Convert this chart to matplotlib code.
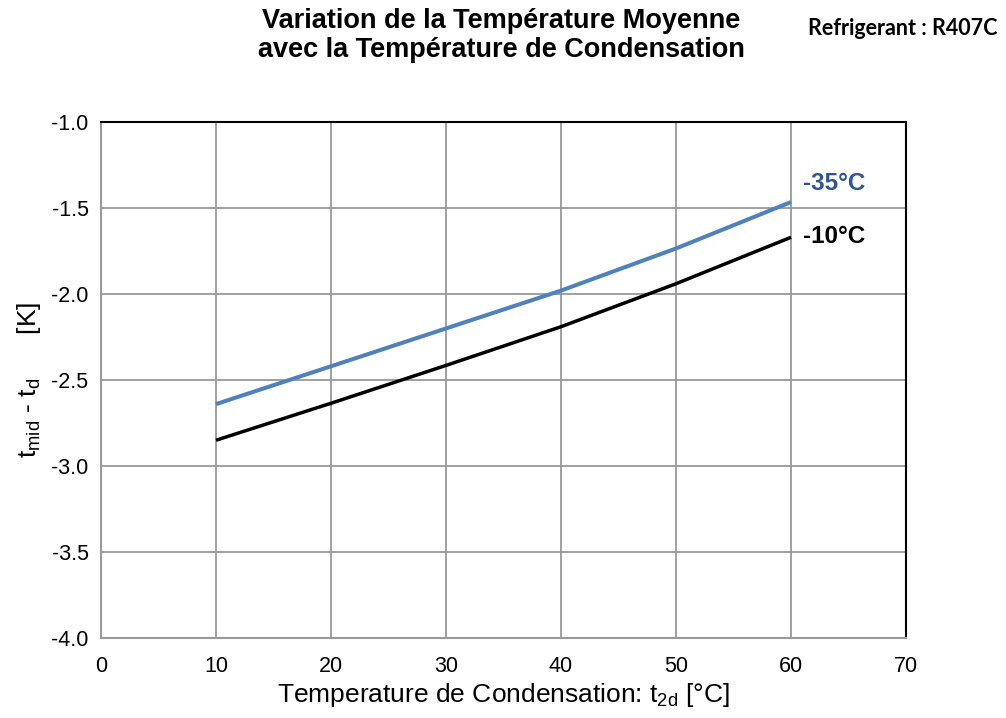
import matplotlib
matplotlib.use("Agg")
import matplotlib.pyplot as plt

plt.rcParams['font.family'] = ['Liberation Sans', 'DejaVu Sans']
plt.rcParams['mathtext.fontset'] = 'custom'
plt.rcParams['mathtext.rm'] = 'Liberation Sans'
plt.rcParams['mathtext.it'] = 'Liberation Sans'

t_cond = [10, 20, 30, 40, 50, 60]
series_m35 = [-2.64, -2.42, -2.20, -1.98, -1.735, -1.465]
series_m10 = [-2.85, -2.635, -2.415, -2.19, -1.94, -1.67]
x_ticks = [0, 10, 20, 30, 40, 50, 60, 70]
y_ticks = [-4.0, -3.5, -3.0, -2.5, -2.0, -1.5, -1.0]

fig = plt.figure(figsize=(10.06, 7.18), dpi=100)
ax = fig.add_axes([0.1004, 0.1114, 0.8002, 0.7186])

ax.plot(t_cond, series_m35, color='#4F81BD', lw=2.9, solid_capstyle='butt', zorder=3)
ax.plot(t_cond, series_m10, color='black', lw=2.5, solid_capstyle='butt', zorder=3)

ax.set_xlim(0, 70)
ax.set_ylim(-4.0, -1.0)
ax.set_xticks(x_ticks)
ax.set_yticks(y_ticks)
ax.set_yticklabels([f"{v:.1f}" for v in y_ticks])
ax.tick_params(axis='both', length=0, labelsize=15.5)
ax.tick_params(axis='y', pad=9)
ax.tick_params(axis='x', pad=13)
ax.grid(True, color='#999999', lw=1.3)
ax.set_axisbelow(True)
for s in ['left', 'bottom']:
    ax.spines[s].set_color('#999999')
    ax.spines[s].set_linewidth(1.5)
for s in ['top', 'right']:
    ax.spines[s].set_color('black')
    ax.spines[s].set_linewidth(1.5)

ax.set_xlabel(r'Temperature de Condensation: t$_{\mathregular{2d}}$ [°C]', fontsize=19, labelpad=3)
ax.set_ylabel(r't$_{\mathregular{mid}}$ - t$_{\mathregular{d}}$      [K]', fontsize=19, labelpad=6)

ax.text(61, -1.355, '-35°C', color='#2F5597', fontsize=17.5, fontweight='bold', ha='left', va='center')
ax.text(61, -1.663, '-10°C', color='black', fontsize=17.5, fontweight='bold', ha='left', va='center')

fig.text(0.498, 0.951, 'Variation de la Température Moyenne\navec la Température de Condensation',
         ha='center', va='center', fontsize=19.5, fontweight='bold', linespacing=1.15)
fig.text(0.897, 0.961, 'Refrigerant : R407C', ha='center', va='center', fontsize=15.5,
         fontweight='bold', family=['Lato', 'DejaVu Sans'])

fig.savefig('out.png', dpi=100)
